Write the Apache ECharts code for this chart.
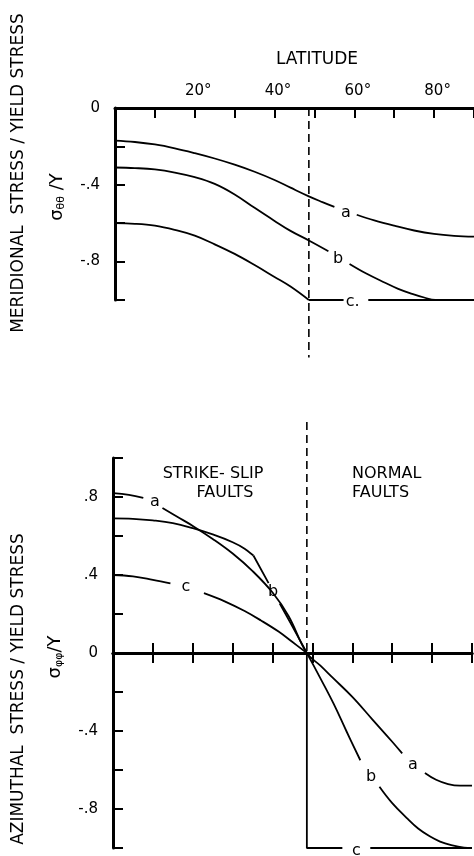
<!DOCTYPE html>
<html>
<head>
<meta charset="utf-8">
<script src="https://cdn.jsdelivr.net/npm/echarts@6/dist/echarts.min.js"></script>
<style>
  html, body { margin: 0; padding: 0; background: #fff; }
  #chart { width: 474px; height: 856px; }
</style>
</head>
<body>
<div id="chart"></div>
<script>
// [latitude deg, stress / Y]; null marks a gap left for a curve label
const merA = [[0, -0.17], [5, -0.177], [10, -0.19], [15, -0.21], [20, -0.235], [25, -0.263], [30, -0.295], [35, -0.332], [40, -0.375], [44, -0.415], [48.6, -0.46], [52, -0.49], [55, -0.515], [57.9, null], [60.6, -0.556], [65, -0.585], [70, -0.613], [75, -0.638], [80, -0.656], [85, -0.666], [90, -0.67]]
const merB = [[0, -0.31], [5, -0.313], [10, -0.32], [15, -0.336], [20, -0.36], [25, -0.395], [30, -0.45], [35, -0.52], [40, -0.588], [44, -0.64], [48.6, -0.69], [53.5, -0.746], [55.9, null], [58.8, -0.812], [63, -0.862], [67.7, -0.91], [71, -0.942], [74.5, -0.968], [77.5, -0.987], [80.3, -1.0], [85, -1.0], [90, -1.0]]
const merC = [[0, -0.6], [5, -0.603], [10, -0.613], [15, -0.635], [20, -0.665], [25, -0.71], [30, -0.76], [35, -0.818], [40, -0.88], [44, -0.93], [48.6, -1.0]]
const merCFlat = [[48.6, -1.0], [57.3, -1.0], [59, null], [63.5, -1.0], [90, -1.0]]

const aziA = [[0, 0.82], [4, 0.811], [7.6, 0.795], [10.5, null], [12.4, 0.744], [16, 0.7], [20.3, 0.648], [25, 0.585], [30, 0.51], [35, 0.42], [40, 0.31], [44, 0.19], [48.6, 0], [52, -0.065], [55, -0.125], [60, -0.225], [65, -0.34], [70, -0.455], [72.5, -0.515], [75.2, null], [78.2, -0.615], [81, -0.65], [84, -0.672], [87, -0.68], [90, -0.68]]
const aziB = [[0, 0.69], [5, 0.688], [10, 0.68], [15, 0.666], [20, 0.64], [25, 0.608], [30, 0.568], [33, 0.535], [35.2, 0.5]]
const aziBSteep = [[35.2, 0.5], [39, 0.358], [40.1, null], [41.8, 0.254], [45, 0.135], [48.6, 0], [52, -0.13], [55.3, -0.26], [58.5, -0.4], [62, -0.55], [64.7, null], [66.8, -0.686], [70, -0.77], [73.6, -0.845], [76.5, -0.9], [79.4, -0.94], [82, -0.967], [84.8, -0.985], [88, -0.998], [90, -1.0]]
const aziC = [[0, 0.4], [5, 0.393], [10, 0.375], [14.4, 0.357], [18.3, null], [22.8, 0.307], [28, 0.265], [33, 0.215], [37, 0.168], [41.5, 0.11], [45, 0.056], [48.6, 0]]
const aziCStep = [[48.6, 0], [48.6, -1.0], [57.5, -1.0], [61, null], [64.5, -1.0], [90, -1.0]]

// boundary between strike-slip and normal faulting
const dashTop = [[48.6, 0], [48.6, -1.3]]
const dashBottom = [[48.6, 1.185], [48.6, 0]]

// curve letters [lat, value, text]
const merLabels = [[57.9, -0.545, 'a'], [55.9, -0.785, 'b'], [59.6, -1.01, 'c.']]
const aziLabels = [[10.5, 0.774, 'a'], [40.1, 0.313, 'b'], [18.3, 0.338, 'c'], [75.2, -0.574, 'a'], [64.7, -0.636, 'b'], [61, -1.015, 'c']]

const latTicks = [20, 40, 60, 80]
const stressTicks = { 0: '0', 4: '.4', 8: '.8', '-4': '-.4', '-8': '-.8' }

const FONT = 'DejaVu Sans'
const chart = echarts.init(document.getElementById('chart'))

function fmtLat(v) {
  return latTicks.includes(Math.round(v)) ? Math.round(v) + '°' : ''
}
function fmtStress(v) {
  const k = Math.round(v * 10)
  return stressTicks[k] !== undefined ? stressTicks[k] : ''
}

const axisLine = { color: '#000', width: 3 }
const tickLine = { color: '#000', width: 2 }

function latAxis(grid, position, extra) {
  return Object.assign({
    gridIndex: grid, type: 'value', min: 0, max: 90, interval: 10, position: position,
    axisLine: { show: true, lineStyle: axisLine },
    axisTick: { show: true, inside: true, length: 10, lineStyle: tickLine },
    axisLabel: { formatter: fmtLat, color: '#000', fontSize: 15, fontFamily: FONT, margin: 9, padding: [0, 0, 0, 7] },
    splitLine: { show: false }
  }, extra)
}
function stressAxis(grid, min, max) {
  return {
    gridIndex: grid, type: 'value', min: min, max: max, interval: 0.2,
    axisLine: { show: true, onZero: false, lineStyle: axisLine },
    axisTick: { show: true, inside: true, length: 10, lineStyle: tickLine },
    axisLabel: { formatter: fmtStress, color: '#000', fontSize: 15, fontFamily: FONT, margin: 15 },
    splitLine: { show: false }
  }
}

function curve(data, x, y, smooth) {
  return {
    type: 'line', data: data, xAxisIndex: x, yAxisIndex: y,
    smooth: smooth, showSymbol: false, symbol: 'none',
    connectNulls: false, clip: false,
    lineStyle: { color: '#000', width: 1.8 }
  }
}
function dashed(data, x, y) {
  return {
    type: 'line', data: data, xAxisIndex: x, yAxisIndex: y,
    showSymbol: false, symbol: 'none', clip: false,
    lineStyle: { color: '#000', width: 1.6, type: [8, 5] }
  }
}
function letters(data, x, y) {
  return {
    type: 'scatter', xAxisIndex: x, yAxisIndex: y, symbolSize: 0, clip: false,
    itemStyle: { color: '#000' },
    data: data.map(d => ({ value: [d[0], d[1]], name: d[2] })),
    label: { show: true, position: 'inside', formatter: p => p.name, color: '#000', opacity: 1, fontSize: 16, fontFamily: FONT }
  }
}

const option = {
  animation: false,
  backgroundColor: '#fff',
  grid: [
    { left: 115, top: 108, width: 359, height: 192, containLabel: false, outerBoundsMode: 'none' },
    { left: 113, top: 458, width: 359, height: 390, containLabel: false, outerBoundsMode: 'none' }
  ],
  xAxis: [
    latAxis(0, 'top', { axisLine: { show: true, onZero: false, lineStyle: axisLine } }),
    latAxis(1, 'bottom', { axisLine: { show: true, onZero: true, onZeroAxisIndex: 1, lineStyle: axisLine }, axisLabel: { formatter: fmtLat, color: '#000', fontSize: 15, fontFamily: FONT, margin: 12, padding: [0, 0, 0, 7] } }),
    latAxis(1, 'bottom', { axisLine: { show: true, onZero: true, onZeroAxisIndex: 1, lineStyle: axisLine }, axisTick: { show: true, inside: false, length: 10, lineStyle: tickLine }, axisLabel: { show: false } })
  ],
  yAxis: [
    stressAxis(0, -1, 0),
    stressAxis(1, -1, 1)
  ],
  graphic: [
    { type: 'text', x: 317, y: 60, style: { text: 'LATITUDE', fill: '#000', fontSize: 17, fontFamily: FONT, align: 'center', verticalAlign: 'middle' } },
    { type: 'text', x: 19, y: 173, rotation: Math.PI / 2, style: { text: 'MERIDIONAL  STRESS / YIELD STRESS', fill: '#000', fontSize: 17, fontFamily: FONT, align: 'center', verticalAlign: 'middle' } },
    { type: 'text', x: 19, y: 689, rotation: Math.PI / 2, style: { text: 'AZIMUTHAL  STRESS / YIELD STRESS', fill: '#000', fontSize: 17, fontFamily: FONT, align: 'center', verticalAlign: 'middle' } },
    { type: 'text', x: 57, y: 197, rotation: Math.PI / 2, style: { text: '{s|σ}{t|θθ}{s| /Y}', fill: '#000', fontFamily: FONT, align: 'center', verticalAlign: 'middle',
      rich: { s: { fontSize: 18, fontFamily: FONT, fill: '#000' }, t: { fontSize: 11, fontFamily: FONT, fill: '#000', padding: [8, 0, 0, 0] } } } },
    { type: 'text', x: 55, y: 657, rotation: Math.PI / 2, style: { text: '{s|σ}{t|φφ}{s|/Y}', fill: '#000', fontFamily: FONT, align: 'center', verticalAlign: 'middle',
      rich: { s: { fontSize: 18, fontFamily: FONT, fill: '#000' }, t: { fontSize: 11, fontFamily: FONT, fill: '#000', padding: [8, 0, 0, 0] } } } },
    { type: 'text', x: 213, y: 474, style: { text: 'STRIKE- SLIP', fill: '#000', fontSize: 16, fontFamily: FONT, align: 'center', verticalAlign: 'middle' } },
    { type: 'text', x: 225, y: 493, style: { text: 'FAULTS', fill: '#000', fontSize: 16, fontFamily: FONT, align: 'center', verticalAlign: 'middle' } },
    { type: 'text', x: 352, y: 474, style: { text: 'NORMAL', fill: '#000', fontSize: 16, fontFamily: FONT, align: 'left', verticalAlign: 'middle' } },
    { type: 'text', x: 352, y: 493, style: { text: 'FAULTS', fill: '#000', fontSize: 16, fontFamily: FONT, align: 'left', verticalAlign: 'middle' } }
  ],
  series: [
    curve(merA, 0, 0, 0.4),
    curve(merB, 0, 0, 0.4),
    curve(merC, 0, 0, 0.4),
    curve(merCFlat, 0, 0, false),
    dashed(dashTop, 0, 0),
    letters(merLabels, 0, 0),
    curve(aziA, 1, 1, 0.4),
    curve(aziB, 1, 1, 0.4),
    curve(aziBSteep, 1, 1, 0.4),
    curve(aziC, 1, 1, 0.4),
    curve(aziCStep, 1, 1, false),
    dashed(dashBottom, 1, 1),
    letters(aziLabels, 1, 1)
  ]
}

chart.setOption(option)
</script>
</body>
</html>
